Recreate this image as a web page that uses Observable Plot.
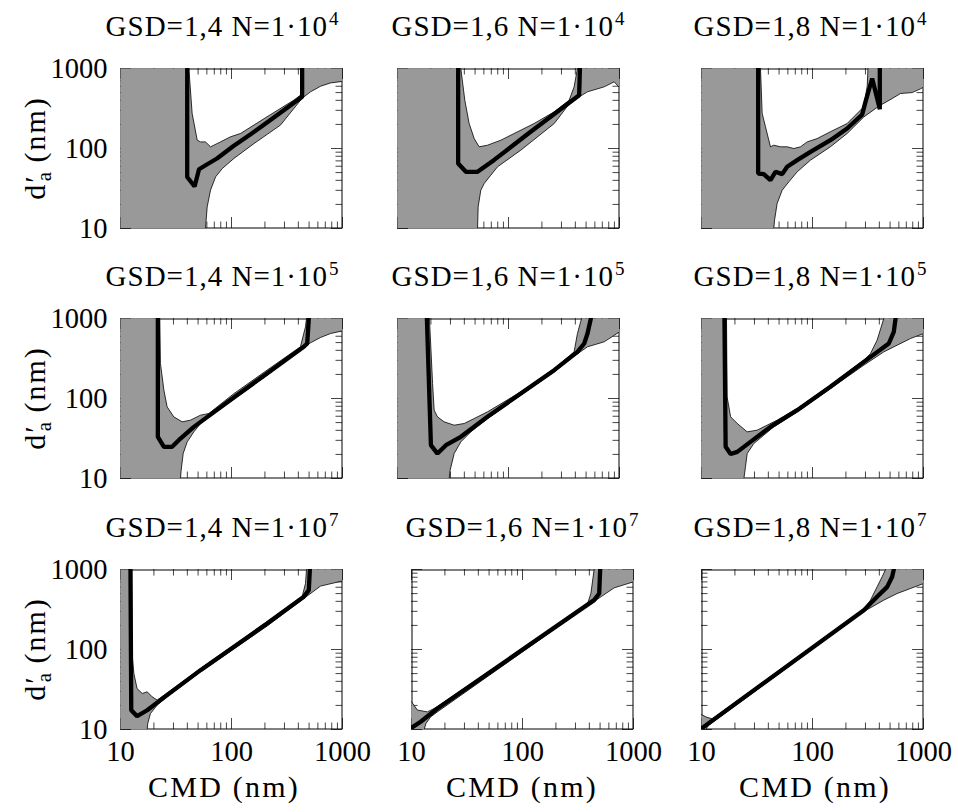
<!DOCTYPE html>
<html>
<head>
<meta charset="utf-8">
<script src="https://cdn.jsdelivr.net/npm/d3@7"></script>
<script src="https://cdn.jsdelivr.net/npm/@observablehq/plot@0.6"></script>
<style>
  html, body { margin: 0; padding: 0; background: #fff; }
  #root { position: relative; width: 958px; height: 812px; overflow: hidden; background: #fff;
          font-family: "Liberation Serif", "Times New Roman", serif; color: #000; }
  .panel { position: absolute; }
  .panel svg { max-width: none !important; overflow: visible; }
  .title { position: absolute; width: 340px; text-align: center; font-size: 29px; line-height: 28px;
           white-space: nowrap; letter-spacing: 1px; }
  .xtitle { position: absolute; width: 240px; text-align: center; font-size: 30px; line-height: 28px;
            white-space: nowrap; letter-spacing: 2.2px; }
  .ytitle { position: absolute; width: 240px; height: 28px; text-align: center; font-size: 30px; line-height: 28px;
            white-space: nowrap; letter-spacing: 2px; transform: rotate(-90deg); transform-origin: 50% 50%; }
  .sup { font-size: 19px; position: relative; top: -11px; letter-spacing: 0; margin-left: 1px; }
  .sub { font-size: 21px; position: relative; top: 6px; margin-left: -7px; letter-spacing: 0; }
</style>
</head>
<body>
<div id="root"></div>
<script>
// ---------- data ----------
const domainNm = [10, 1000];
const majorTicks = [10, 100, 1000];
const minorTicks = [20, 30, 40, 50, 60, 70, 80, 90, 200, 300, 400, 500, 600, 700, 800, 900];
const gsdValues = ["1,4", "1,6", "1,8"];
const nExponents = ["4", "5", "7"];
const xTitle = "CMD (nm)";

// [CMD, d'a] points: thick black curve, upper and lower boundary of the grey band
// GSD=1,4 N=1e4
const line_14_4 = [[39.9,1000],[39.9,44],[46.5,33.5],[51,55],[61,64],[74,75],[105,108],[150,152],[209,212],[300,305],[433,443],[433,1000]];
const upper_14_4 = [[41.3,1000],[44.2,274],[49.1,127],[52.6,121],[58.3,121],[64.7,105],[69.3,110],[79.6,121],[97.9,140],[120.5,154],[209,249],[364,402],[418,464],[433,1000]];
const lower_14_4 = [[58.3,10],[60.4,18.7],[64.7,30.1],[71.9,44.2],[82.6,56.2],[105,75],[159,115],[276,196],[433,425],[515,511],[634,600],[780,660],[1000,690]];
// GSD=1,6 N=1e4
const line_16_4 = [[35.2,1000],[35.2,64.9],[41.3,51.1],[52.6,51.1],[74.3,72],[150,153],[433,464],[440,1000]];
const upper_16_4 = [[37.2,1000],[40.4,402],[44.2,205],[49.1,133],[54.4,105],[64.7,110],[85.3,127],[112.5,154],[170,205],[258,287],[352,402],[390,590],[418,1000]];
const lower_16_4 = [[52.6,10],[53.3,18.7],[56.3,30.1],[60.4,36.5],[69.3,46.4],[79.6,59],[129,95.3],[258,205],[364,383],[515,511],[728,590],[895,681],[1000,579]];
// GSD=1,8 N=1e4
const line_18_4 = [[32.4,1000],[32.4,48.7],[36.4,47.8],[41.8,40.2],[46.4,51.1],[53.3,47.8],[59.1,59],[72.8,71.5],[95.9,90.9],[145,127],[205,178],[280,265],[300,383],[345,750],[404,310],[404,1000]];
const upper_18_4 = [[34,1000],[35.2,274],[37.7,187],[41.8,105],[44.8,110],[51.5,105],[59.1,105],[67.9,100],[78,105],[89.5,121],[110,133],[145,162],[205,205],[290,332],[311,600],[316,1000]];
const lower_18_4 = [[44.8,10],[45.5,12.7],[48,20.5],[53.3,30.1],[61.2,38.3],[72.8,51.1],[95.9,71.5],[145,105],[205,154],[290,248],[396,338],[520,420],[621,487],[791,500],[940,557],[1000,584]];
// GSD=1,4 N=1e5
const line_14_5 = [[21.7,1000],[21.7,33.2],[24.6,24.9],[29.2,24.9],[34.7,31.6],[45.8,44.2],[105,103],[209,205],[448,443],[481,487],[497,1000]];
const upper_14_5 = [[22.6,1000],[22.9,274],[24.6,127],[26.3,78.7],[30.2,59],[35.9,51.1],[42.7,53.6],[52.6,61.9],[62.5,64.9],[105,115],[209,226],[418,443],[464,787],[474,1000]];
const lower_14_5 = [[34.7,10],[35.2,12.7],[36.7,20.5],[39.9,28.7],[45.8,38.3],[52.6,48.7],[64.7,62],[105,98],[209,195],[418,405],[515,497],[634,579],[780,649],[1000,700]];
// GSD=1,6 N=1e5
const line_16_5 = [[18.4,1000],[20,26.1],[22.9,20.5],[27.3,26.1],[37.2,33.2],[64.7,59],[129,115.5],[258,226],[418,383],[481,487],[515,649],[552,1000]];
const upper_16_5 = [[19.4,1000],[20.7,154],[21.4,71.5],[22.9,59],[26.3,51.1],[32.4,46.4],[39.9,48.7],[49.1,56.2],[64.7,68.1],[129,121],[258,237],[390,383],[418,649],[455,1000]];
const lower_16_5 = [[29.2,10],[29.8,12.7],[32.4,20.5],[37.2,28.7],[45.8,38.3],[64.7,56.2],[129,110],[258,215],[390,338],[515,443],[728,511],[1000,681]];
// GSD=1,8 N=1e5
const line_18_5 = [[16.1,1000],[16.5,24.9],[18.3,20.2],[21,21.5],[27.6,28.7],[41.8,44.2],[72.8,71.5],[145,140],[290,287],[487,487],[540,681],[560,1000]];
const upper_18_5 = [[16.8,1000],[17,105],[18.3,59],[21,48.7],[25.8,38.3],[31.7,40.2],[39,46.4],[48,53.6],[72.8,75],[145,147],[290,302],[333,365],[382,536],[439,1000]];
const lower_18_5 = [[24.1,10],[24.9,14],[25.8,20.5],[29.6,27.4],[36.4,34.8],[44.8,44.2],[72.8,68.1],[145,133],[290,261],[439,383],[579,464],[764,562],[1000,649]];
// GSD=1,4 N=1e7
const line_14_7 = [[12.3,1000],[12.5,17.4],[14.1,14.7],[17.4,17.4],[22.9,23.3],[52.6,55.2],[209,211],[448,456],[497,552],[508,1000]];
const upper_14_7 = [[12.6,1000],[12.7,89],[13.2,50],[14.1,32.5],[15.7,28.2],[17.4,29.6],[19.3,25.6],[21.4,23.3],[52.6,57.9],[209,222],[433,456],[464,668],[474,1000]];
const lower_14_7 = [[17.4,10],[17.6,11.9],[18.6,15.8],[21.4,20.2],[26.3,25.6],[52.6,52.6],[209,196],[448,434],[634,620],[1000,720]];
// GSD=1,6 N=1e7
const line_16_7 = [[10,10.5],[12.1,12.5],[17.1,18.3],[442,414],[491,501],[501,1000]];
const upper_16_7 = [[10,22.2],[11.3,17.5],[13.9,16.6],[16,18.3],[17.1,19.3],[385,370],[413,501],[442,1000]];
const lower_16_7 = [[13,10],[13.5,11.9],[14.9,14.4],[17.1,16.6],[359,326],[508,455],[670,590],[1000,701]];
// GSD=1,8 N=1e7
const line_18_7 = [[10,10.3],[290,310],[382,456],[471,607],[522,810],[540,1000]];
const upper_18_7 = [[10,15.3],[11.2,14.2],[12.5,13.6],[290,320],[333,414],[382,607],[424,810],[455,1000]];
const lower_18_7 = [[10.9,10],[11.6,11.3],[290,298],[439,414],[579,501],[764,579],[1000,668]];

const panelData = [
  [[line_14_4, upper_14_4, lower_14_4], [line_16_4, upper_16_4, lower_16_4], [line_18_4, upper_18_4, lower_18_4]],
  [[line_14_5, upper_14_5, lower_14_5], [line_16_5, upper_16_5, lower_16_5], [line_18_5, upper_18_5, lower_18_5]],
  [[line_14_7, upper_14_7, lower_14_7], [line_16_7, upper_16_7, lower_16_7], [line_18_7, upper_18_7, lower_18_7]]
];

// ---------- layout (pixels) ----------
const FW = 222, FH = 160;
const mL = 115, mR = 25, mT = 20, mB = 50;
const frameLefts = [[120, 397, 701], [120, 397, 701], [120, 411, 701]];
const frameTops = [68, 318, 569];
const titleCenters = [[222, 508, 810], [222, 508, 810], [222, 522, 810]];
const titleBaselines = [35, 285, 536];
const xTitleCenters = [224, 522, 815];
const xTitleBaseline = 796;
const yTitleBaselineX = 44;
const ASC = 23.4; // baseline offset inside a 28px line box
const minorLen = 6.5, majorLen = 11;

const root = document.getElementById("root");
const px = d => d[0], py = d => d[1], id = d => d;

function makePanel(curve, upper, lower, showX, showY) {
  const [lo, hi] = domainNm;
  const poly = [[lo, lo]];
  if (upper[0][1] >= hi) poly.push([lo, hi]);
  poly.push(...upper, [hi, hi], ...lower.slice().reverse());
  const tk = {stroke: "#444", strokeWidth: 1};
  return Plot.plot({
    width: mL + FW + mR, height: mT + FH + mB,
    marginLeft: mL, marginRight: mR, marginTop: mT, marginBottom: mB,
    x: {type: "log", domain: domainNm, axis: null},
    y: {type: "log", domain: domainNm, axis: null},
    style: {background: "transparent", overflow: "visible", fontFamily: "'Liberation Serif', serif", fontSize: "28px", color: "black"},
    marks: [
      // inward ticks on all four sides (hidden where the grey band covers them)
      Plot.ruleX(minorTicks, {x: id, insetBottom: FH - minorLen, ...tk}),
      Plot.ruleX(majorTicks, {x: id, insetBottom: FH - majorLen, ...tk}),
      Plot.ruleX(minorTicks, {x: id, insetTop: FH - minorLen, ...tk}),
      Plot.ruleX(majorTicks, {x: id, insetTop: FH - majorLen, ...tk}),
      Plot.ruleY(minorTicks, {y: id, insetRight: FW - minorLen, ...tk}),
      Plot.ruleY(majorTicks, {y: id, insetRight: FW - majorLen, ...tk}),
      Plot.ruleY(minorTicks, {y: id, insetLeft: FW - minorLen, ...tk}),
      Plot.ruleY(majorTicks, {y: id, insetLeft: FW - majorLen, ...tk}),
      Plot.frame({inset: 0.5, stroke: "black", strokeWidth: 1}),
      Plot.line(poly, {x: px, y: py, fill: "#999999", stroke: "none", clip: true}),
      Plot.line(upper, {x: px, y: py, stroke: "black", strokeWidth: 0.8, clip: true}),
      Plot.line(lower, {x: px, y: py, stroke: "black", strokeWidth: 0.8, clip: true}),
      Plot.line(curve, {x: px, y: py, stroke: "black", strokeWidth: 4.3, strokeLinejoin: "miter", clip: true}),
      showY ? Plot.axisY(majorTicks, {anchor: "left", tickSize: 0, tickPadding: 13, label: null, fontSize: 28.5,
        tickFormat: d => String(d)}) : null,
      showX ? Plot.axisX(majorTicks, {anchor: "bottom", tickSize: 0, tickPadding: 11, label: null, fontSize: 28.5,
        tickFormat: d => String(d)}) : null
    ]
  });
}

for (let r = 0; r < 3; r++) {
  for (let c = 0; c < 3; c++) {
    const [curve, upper, lower] = panelData[r][c];
    const div = document.createElement("div");
    div.className = "panel";
    div.style.left = (frameLefts[r][c] - mL) + "px";
    div.style.top = (frameTops[r] - mT) + "px";
    div.style.width = (mL + FW + mR) + "px";
    div.appendChild(makePanel(curve, upper, lower, r === 2, c === 0));
    root.appendChild(div);

    const t = document.createElement("div");
    t.className = "title";
    t.style.left = (titleCenters[r][c] - 170) + "px";
    t.style.top = (titleBaselines[r] - ASC) + "px";
    t.innerHTML = `GSD=${gsdValues[c]} N=1·10<span class="sup">${nExponents[r]}</span>`;
    root.appendChild(t);
  }
  const y = document.createElement("div");
  y.className = "ytitle";
  const cy = frameTops[r] + FH / 2;
  const cx = yTitleBaselineX - (ASC - 14);
  y.style.left = (cx - 120) + "px";
  y.style.top = (cy - 14) + "px";
  y.innerHTML = `d′<span class="sub">a</span> (nm)`;
  root.appendChild(y);
}
for (let c = 0; c < 3; c++) {
  const x = document.createElement("div");
  x.className = "xtitle";
  x.style.left = (xTitleCenters[c] - 120) + "px";
  x.style.top = (xTitleBaseline - ASC) + "px";
  x.textContent = xTitle;
  root.appendChild(x);
}
</script>
</body>
</html>
